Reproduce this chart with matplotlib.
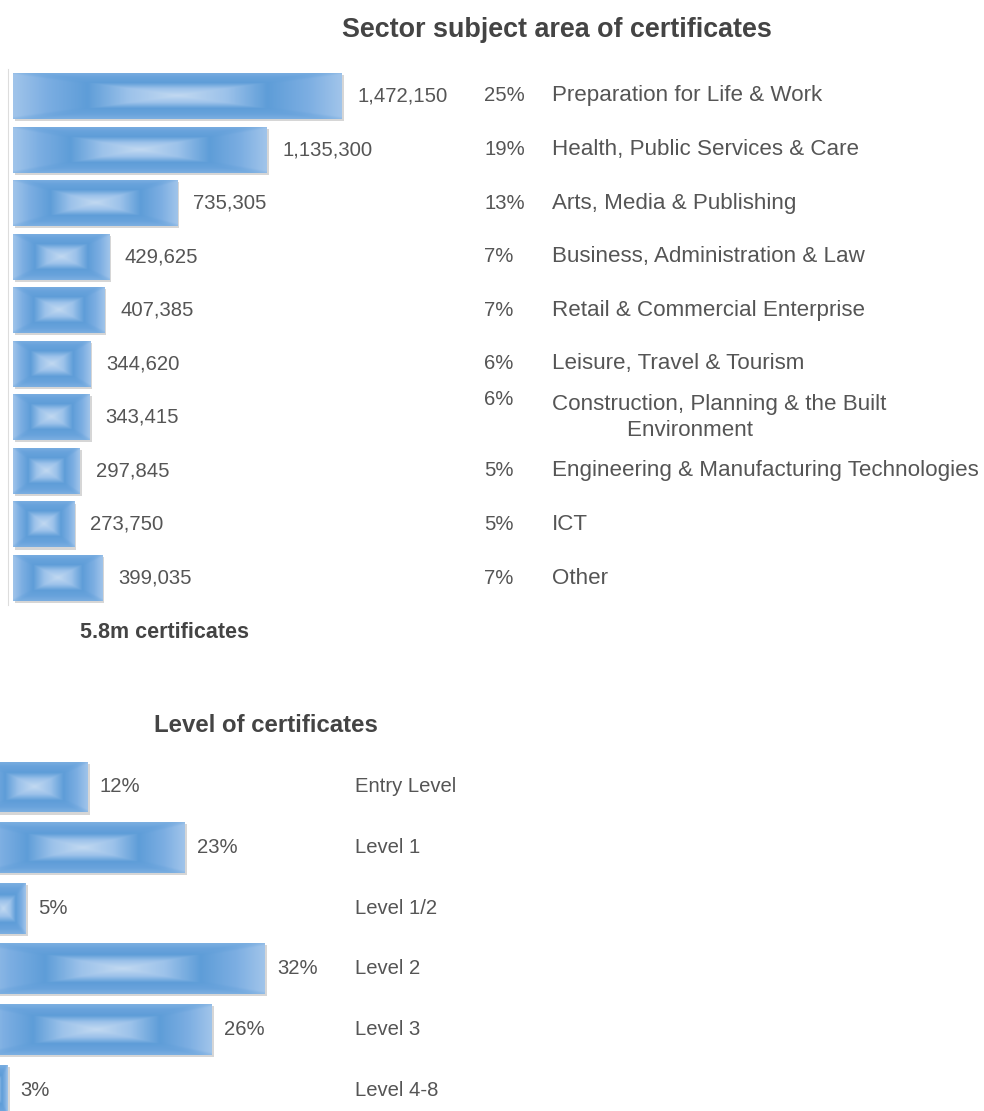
import numpy as np
import matplotlib.pyplot as plt
import matplotlib.patheffects as pe
import matplotlib.transforms as mtransforms
from matplotlib.colors import LinearSegmentedColormap

plt.rcParams['font.family'] = ['Liberation Sans', 'DejaVu Sans']

W, H = 984, 1111
TEXT = '#555555'
TITLE = '#444444'

# sector subject area of certificates
sectors = [
    'Preparation for Life & Work',
    'Health, Public Services & Care',
    'Arts, Media & Publishing',
    'Business, Administration & Law',
    'Retail & Commercial Enterprise',
    'Leisure, Travel & Tourism',
    'Construction, Planning & the Built\n            Environment',
    'Engineering & Manufacturing Technologies',
    'ICT',
    'Other',
]
counts = [1472150, 1135300, 735305, 429625, 407385, 344620, 343415, 297845, 273750, 399035]
shares = [25, 19, 13, 7, 7, 6, 6, 5, 5, 7]

# level of certificates
levels = ['Entry Level', 'Level 1', 'Level 1/2', 'Level 2', 'Level 3', 'Level 4-8']
level_pct = [12, 23, 5, 32, 26, 3]

# "pillow" gradient used to fill each bar (ends lighter than top/bottom edges)
cm_ends = LinearSegmentedColormap.from_list('ends', [
    (0.0, '#c2d9f1'), (0.3, '#9cc2ea'), (0.55, '#5e9dd8'),
    (0.8, '#7caee2'), (1.0, '#a0c4ea')])
cm_sides = LinearSegmentedColormap.from_list('sides', [
    (0.0, '#c2d9f1'), (0.3, '#9cc2ea'), (0.55, '#5e9dd8'),
    (0.8, '#69a3dc'), (1.0, '#7cafe1')])
u = np.linspace(-1, 1, 240)
uu, vv = np.meshgrid(u, u)
dist = np.maximum(np.abs(uu), np.abs(vv))
w = np.clip((np.abs(uu) - np.abs(vv)) * 5 + 0.5, 0, 1)[..., None]
grad = w * cm_ends(dist)[..., :3] + (1 - w) * cm_sides(dist)[..., :3]

fig = plt.figure(figsize=(W / 100, H / 100), dpi=100)


def px_axes(left, top, right, bottom):
    return fig.add_axes([left / W, 1 - bottom / H, (right - left) / W, (bottom - top) / H])


def pillow_bars(ax, values, height):
    y = np.arange(len(values))
    bars = ax.barh(y, values, height=height, color='#7fb0e0', lw=0,
                   path_effects=[pe.SimplePatchShadow(offset=(1.5, -1.5), shadow_rgbFace='#999999', alpha=0.4),
                                 pe.Normal()])
    for b in bars:
        im = ax.imshow(grad, aspect='auto', interpolation='bilinear',
                       extent=[b.get_x(), b.get_x() + b.get_width(), b.get_y() + b.get_height(), b.get_y()],
                       zorder=3)
        im.set_clip_path(b)
    return bars


def clean(ax):
    for s in ax.spines.values():
        s.set_visible(False)
    ax.set_xticks([])
    ax.set_yticks([])
    ax.patch.set_alpha(0)


# ---- top chart
ax1 = px_axes(13, 69.2, 984, 604.8)
bars1 = pillow_bars(ax1, counts, 0.86)
ax1.set_xlim(0, max(counts) * 971 / 329)
ax1.set_ylim(len(counts) - 0.5, -0.5)
clean(ax1)
ax1.spines['left'].set_visible(True)
ax1.spines['left'].set_position(('outward', 3.6))
ax1.spines['left'].set_color('#dddddd')

for i, v in enumerate(counts):
    ax1.annotate(f'{v:,}', xy=(v, i), xytext=(11.5, 0), textcoords='offset points',
                 ha='left', va='center', fontsize=14.6, color=TEXT)
trans1 = mtransforms.blended_transform_factory(fig.transFigure, ax1.transData)
for i, (s, lab) in enumerate(zip(shares, sectors)):
    yy = i - 0.33 if '\n' in lab else i
    ax1.text(484 / W, yy, f'{s}%', transform=trans1, ha='left', va='center', fontsize=14.6, color=TEXT)
    ax1.text(552 / W, i, lab, transform=trans1, ha='left', va='center', fontsize=16.1, color=TEXT,
             linespacing=1.3)

fig.text(557 / W, 1 - 30 / H, 'Sector subject area of certificates', ha='center', va='center',
         fontsize=19.4, fontweight='bold', color=TITLE)
fig.text(164 / W, 1 - 632 / H, '5.8m certificates', ha='center', va='center',
         fontsize=15.5, fontweight='bold', color=TITLE)

# ---- bottom chart
ax2 = px_axes(-18.6, 756.7, 984, 1120.3)
bars2 = pillow_bars(ax2, level_pct, 0.84)
ax2.set_xlim(0, 1002.6 / 8.86)
ax2.set_ylim(len(level_pct) - 0.5, -0.5)
clean(ax2)

trans2 = mtransforms.blended_transform_factory(fig.transFigure, ax2.transData)
for i, (p, lab) in enumerate(zip(level_pct, levels)):
    ax2.annotate(f'{p}%', xy=(p, i), xytext=(8.6, 0), textcoords='offset points',
                 ha='left', va='center', fontsize=14.6, color=TEXT)
    ax2.text(355 / W, i, lab, transform=trans2, ha='left', va='center', fontsize=14.6, color=TEXT)

fig.text(266 / W, 1 - 725 / H, 'Level of certificates', ha='center', va='center',
         fontsize=17.3, fontweight='bold', color=TITLE)

fig.savefig('out.png', dpi=100, facecolor='white')
